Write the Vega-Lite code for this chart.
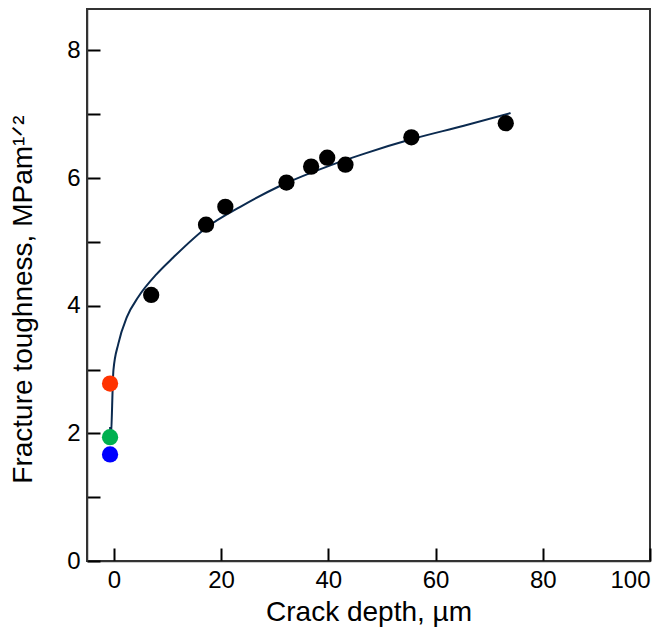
{
  "$schema": "https://vega.github.io/schema/vega-lite/v6.json",
  "autosize": {"type": "none"},
  "padding": {"left": 87, "top": 9, "right": 20, "bottom": 66},
  "width": 563,
  "height": 552,
  "background": "white",
  "config": {
    "font": "Liberation Sans",
    "view": {"stroke": "#333333", "strokeWidth": 2},
    "axis": {
      "grid": false,
      "domainColor": "#333333",
      "domainWidth": 1.5,
      "tickColor": "#000000",
      "tickWidth": 2,
      "tickSize": -13,
      "labelFont": "Liberation Sans",
      "labelFontSize": 24,
      "labelColor": "#000000",
      "titleFont": "Liberation Sans",
      "titleFontSize": 28,
      "titleFontWeight": "normal",
      "titleColor": "#000000"
    }
  },
  "datasets": {
    "curve": [
      {"x": -0.6, "y": 1.85},
      {"x": -0.69, "y": 2.1},
      {"x": -0.07, "y": 2.99},
      {"x": 0.86, "y": 3.41},
      {"x": 2.43, "y": 3.82},
      {"x": 4.59, "y": 4.14},
      {"x": 8.03, "y": 4.5},
      {"x": 11.13, "y": 4.76},
      {"x": 17.37, "y": 5.23},
      {"x": 23.59, "y": 5.55},
      {"x": 31.06, "y": 5.88},
      {"x": 40.39, "y": 6.2},
      {"x": 46.61, "y": 6.38},
      {"x": 55.95, "y": 6.62},
      {"x": 65.28, "y": 6.82},
      {"x": 74.0, "y": 7.02}
    ],
    "points": [
      {"x": 6.97, "y": 4.17, "kind": "data"},
      {"x": 17.2, "y": 5.27, "kind": "data"},
      {"x": 20.8, "y": 5.55, "kind": "data"},
      {"x": 32.2, "y": 5.93, "kind": "data"},
      {"x": 36.8, "y": 6.18, "kind": "data"},
      {"x": 39.8, "y": 6.32, "kind": "data"},
      {"x": 43.2, "y": 6.21, "kind": "data"},
      {"x": 55.5, "y": 6.64, "kind": "data"},
      {"x": 73.1, "y": 6.86, "kind": "data"},
      {"x": -0.7, "y": 2.78, "kind": "red"},
      {"x": -0.7, "y": 1.94, "kind": "green"},
      {"x": -0.7, "y": 1.67, "kind": "blue"}
    ]
  },
  "layer": [
    {
      "data": {"name": "curve"},
      "mark": {"type": "line", "color": "#0b2a4f", "strokeWidth": 2, "interpolate": "monotone", "clip": true},
      "encoding": {
        "x": {
          "field": "x", "type": "quantitative",
          "scale": {"domain": [-5, 100], "nice": false, "zero": false},
          "axis": {"values": [0, 20, 40, 60, 80, 100], "format": "d", "title": "Crack depth, µm", "labelPadding": 20, "titlePadding": 6}
        },
        "y": {
          "field": "y", "type": "quantitative",
          "scale": {"domain": [0, 8.65], "nice": false},
          "axis": {"values": [0, 1, 2, 3, 4, 5, 6, 7, 8], "format": "d", "labelExpr": "datum.value % 2 === 0 ? datum.label : ''", "title": "Fracture toughness, MPam¹ᐟ²", "labelPadding": 20, "titlePadding": 29, "titleY": 290}
        }
      }
    },
    {
      "data": {"name": "points"},
      "mark": {"type": "circle", "size": 265, "opacity": 1},
      "encoding": {
        "x": {"field": "x", "type": "quantitative"},
        "y": {"field": "y", "type": "quantitative"},
        "color": {
          "field": "kind", "type": "nominal",
          "scale": {"domain": ["data", "red", "green", "blue"], "range": ["#000000", "#ff3300", "#00b050", "#0000ff"]},
          "legend": null
        }
      }
    }
  ]
}
